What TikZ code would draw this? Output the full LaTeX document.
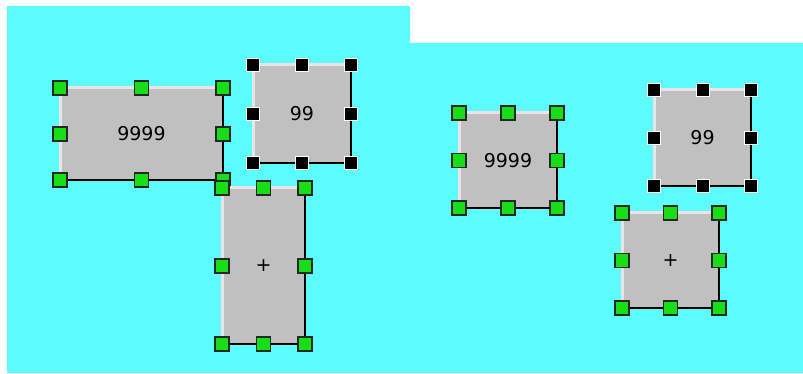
\documentclass[tikz,border=0pt]{standalone}
\usepackage{fontspec}
\newfontfamily\uifont{DejaVu Sans}
\usepackage{xcolor}
\definecolor{canvas}{RGB}{92,252,252}
\definecolor{facegray}{RGB}{192,192,192}
\definecolor{litegray}{RGB}{236,228,228}
\definecolor{gripgreen}{RGB}{24,222,24}

\begin{document}
\begin{tikzpicture}[x=1pt, y=-1pt,
  box/.style={rectangle, fill=facegray, inner sep=0pt, outer sep=0pt, font=\uifont\fontsize{19}{19}\selectfont},
  lite/.style={line width=3pt, draw=litegray},
  dark/.style={line width=1.3pt, draw=black},
  grip/.style={rectangle, minimum size=14pt, inner sep=0pt, fill=gripgreen, draw=black!85, line width=1.2pt},
  gripsel/.style={rectangle, minimum size=13pt, inner sep=0pt, fill=black, draw=white, line width=1pt}
]
\useasboundingbox (0,0) rectangle (803,374);
\fill[canvas] (7,6) -- (410,6) -- (410,43) -- (803,43) -- (803,373) -- (7,373) -- cycle;
% left panel
\node[box, minimum width=163pt, minimum height=92pt] (b1) at (141.5,134) {9999};
\draw[lite] (b1.south west) |- (b1.north east);
\draw[dark] (b1.north east) |- (b1.south west);
\foreach \an [count=\i] in {north west,north,north east,west,east,south west,south,south east}
  \node[grip] (g1\i) at (b1.\an) {};
\node[box, minimum width=98pt, minimum height=98pt] (b2) at (302,114) {99};
\draw[lite] (b2.south west) |- (b2.north east);
\draw[dark] (b2.north east) |- (b2.south west);
\foreach \an [count=\i] in {north west,north,north east,west,east,south west,south,south east}
  \node[gripsel] (g2\i) at (b2.\an) {};
\node[box, minimum width=83pt, minimum height=156pt] (b3) at (263.5,266) {+};
\draw[lite] (b3.south west) |- (b3.north east);
\draw[dark] (b3.north east) |- (b3.south west);
\foreach \an [count=\i] in {north west,north,north east,west,east,south west,south,south east}
  \node[grip] (g3\i) at (b3.\an) {};
% right panel
\node[box, minimum width=98pt, minimum height=95pt] (b4) at (508,160.5) {9999};
\draw[lite] (b4.south west) |- (b4.north east);
\draw[dark] (b4.north east) |- (b4.south west);
\foreach \an [count=\i] in {north west,north,north east,west,east,south west,south,south east}
  \node[grip] (g4\i) at (b4.\an) {};
\node[box, minimum width=97pt, minimum height=96pt] (b5) at (702.5,138) {99};
\draw[lite] (b5.south west) |- (b5.north east);
\draw[dark] (b5.north east) |- (b5.south west);
\foreach \an [count=\i] in {north west,north,north east,west,east,south west,south,south east}
  \node[gripsel] (g5\i) at (b5.\an) {};
\node[box, minimum width=97pt, minimum height=95pt] (b6) at (670.5,260.5) {+};
\draw[lite] (b6.south west) |- (b6.north east);
\draw[dark] (b6.north east) |- (b6.south west);
\foreach \an [count=\i] in {north west,north,north east,west,east,south west,south,south east}
  \node[grip] (g6\i) at (b6.\an) {};
\end{tikzpicture}
\end{document}
